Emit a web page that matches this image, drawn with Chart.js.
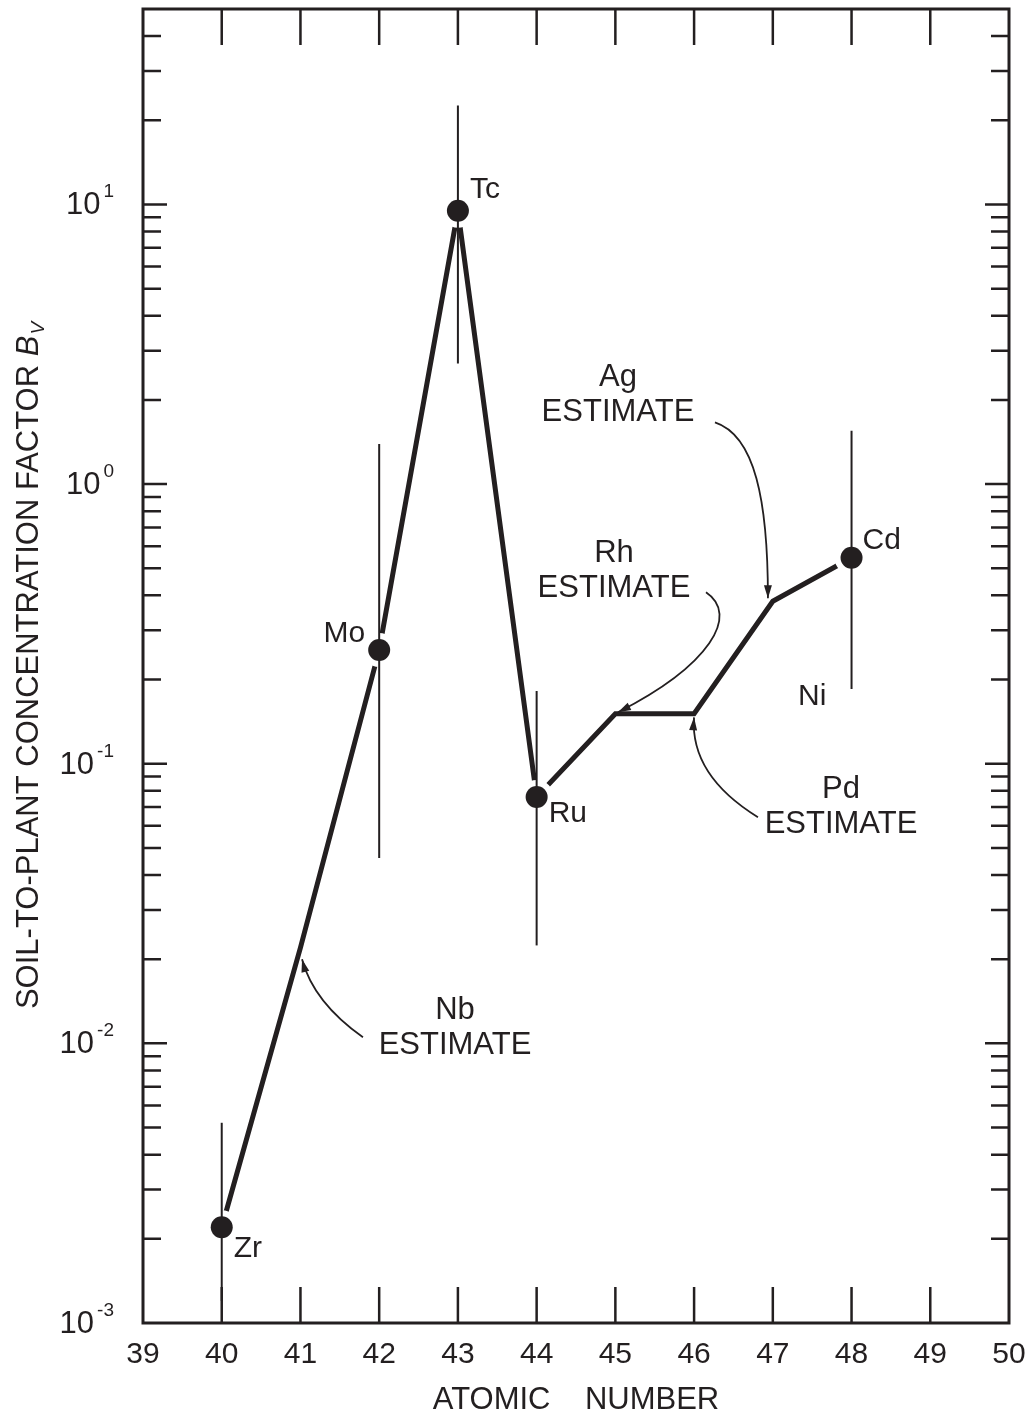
<!DOCTYPE html>
<html>
<head>
<meta charset="utf-8">
<script src="https://cdn.jsdelivr.net/npm/chart.js@4.4.0/dist/chart.umd.min.js"></script>
<style>
  body { margin: 0; background: #fff; }
  canvas { display: block; }
</style>
</head>
<body>
<canvas id="grafico" width="1029" height="1414"></canvas>
<script>
const elementos = ['Zr', 'Mo', 'Tc', 'Ru', 'Cd'];
const numerosAtomicos = [40, 42, 43, 44, 48];
const bvMedio = [0.0022, 0.255, 9.5, 0.076, 0.545];
const bvMin = [0.0012, 0.046, 2.7, 0.0224, 0.185];
const bvMax = [0.0052, 1.39, 22.6, 0.182, 1.55];

// Linha de estimativa (Zr .. Cd, passando por Nb, Rh, Pd, Ag)
const linhaX = [40, 41, 42, 43, 44, 45, 46, 47, 48];
const linhaY = [0.0022, 0.022, 0.255, 9.5, 0.076, 0.151, 0.151, 0.381, 0.545];

// Eixos
const ticksX = [39, 40, 41, 42, 43, 44, 45, 46, 47, 48, 49, 50];
const expoentesY = [-3, -2, -1, 0, 1];
const yMin = 0.001;
const yMax = 50;

const COR = '#231f20';
const FONTE = '"Liberation Sans", Arial, Helvetica, sans-serif';

// Rotulos de cada ponto (deslocamento em px a partir do ponto)
const rotulosPontos = [
  { dx: 12, dy: 21, align: 'left' },   // Zr
  { dx: -14, dy: -16, align: 'right' }, // Mo
  { dx: 12, dy: -21, align: 'left' },  // Tc
  { dx: 12, dy: 17, align: 'left' },   // Ru
  { dx: 11, dy: -17, align: 'left' }   // Cd
];

// Anotacoes "ESTIMATE" com setas curvas (coordenadas no espaco dos dados)
const anotacoes = [
  { nome: 'Nb', texto: [42.963, 0.01315],
    seta: { p0: [41.794, 0.01052], c: [41.166, 0.01403], p1: [41.02, 0.0200] } },
  { nome: 'Rh', texto: [44.982, 0.566],
    seta: { p0: [46.151, 0.410], c1: [46.583, 0.340], c2: [46.202, 0.225], p1: [45.033, 0.1528] } },
  { nome: 'Ag', texto: [45.033, 2.408],
    seta: { p0: [46.265, 1.663], c1: [46.773, 1.493], c2: [46.938, 0.875], p1: [46.938, 0.391] } },
  { nome: 'Pd', texto: [47.866, 0.0811],
    seta: { p0: [46.811, 0.0644], c: [45.948, 0.0910], p1: [45.999, 0.1465] } }
];
const rotuloNi = { texto: 'Ni', pos: [47.5, 0.173] };

function px(chart, p) {
  return [chart.scales.x.getPixelForValue(p[0]), chart.scales.y.getPixelForValue(p[1])];
}

function desenharSeta(ctx, chart, s) {
  const a = px(chart, s.p0);
  const b = px(chart, s.p1);
  let dir;
  ctx.beginPath();
  ctx.moveTo(a[0], a[1]);
  if (s.c) {
    const c = px(chart, s.c);
    ctx.quadraticCurveTo(c[0], c[1], b[0], b[1]);
    dir = [b[0] - c[0], b[1] - c[1]];
  } else {
    const c1 = px(chart, s.c1);
    const c2 = px(chart, s.c2);
    ctx.bezierCurveTo(c1[0], c1[1], c2[0], c2[1], b[0], b[1]);
    dir = [b[0] - c2[0], b[1] - c2[1]];
  }
  ctx.lineWidth = 1.8;
  ctx.strokeStyle = COR;
  ctx.stroke();
  // ponta da seta
  const len = Math.hypot(dir[0], dir[1]);
  const ux = dir[0] / len, uy = dir[1] / len;
  const L = 13, W = 4;
  ctx.beginPath();
  ctx.moveTo(b[0], b[1]);
  ctx.lineTo(b[0] - ux * L - uy * W, b[1] - uy * L + ux * W);
  ctx.lineTo(b[0] - ux * L + uy * W, b[1] - uy * L - ux * W);
  ctx.closePath();
  ctx.fillStyle = COR;
  ctx.fill();
}

const desenho = {
  id: 'desenho',
  beforeDatasetDraw(chart, args) {
    if (args.index !== 2) return;
    // barras de erro
    const ctx = chart.ctx;
    ctx.save();
    ctx.strokeStyle = COR;
    ctx.lineWidth = 2;
    numerosAtomicos.forEach((n, i) => {
      const x = chart.scales.x.getPixelForValue(n);
      ctx.beginPath();
      ctx.moveTo(x, chart.scales.y.getPixelForValue(bvMax[i]));
      ctx.lineTo(x, chart.scales.y.getPixelForValue(bvMin[i]));
      ctx.stroke();
    });
    ctx.restore();
  },
  afterDraw(chart) {
    const ctx = chart.ctx;
    const area = chart.chartArea;
    const sx = chart.scales.x, sy = chart.scales.y;
    ctx.save();
    ctx.strokeStyle = COR;
    ctx.fillStyle = COR;
    ctx.lineCap = 'butt';

    // moldura
    ctx.lineWidth = 3;
    ctx.strokeRect(area.left, area.top, area.right - area.left, area.bottom - area.top);

    // ticks do eixo x (para dentro, em cima e em baixo)
    ctx.lineWidth = 2.5;
    ticksX.forEach(v => {
      if (v <= ticksX[0] || v >= ticksX[ticksX.length - 1]) return;
      const x = sx.getPixelForValue(v);
      ctx.beginPath();
      ctx.moveTo(x, area.bottom);
      ctx.lineTo(x, area.bottom - 36);
      ctx.moveTo(x, area.top);
      ctx.lineTo(x, area.top + 36);
      ctx.stroke();
    });

    // ticks do eixo y (log, dos dois lados)
    expoentesY.forEach(e => {
      for (let m = 1; m <= 9; m++) {
        const v = m * Math.pow(10, e);
        if (v <= yMin * 1.0001 || v >= yMax) continue;
        const y = sy.getPixelForValue(v);
        const len = m === 1 ? 24 : 18;
        ctx.beginPath();
        ctx.moveTo(area.left, y);
        ctx.lineTo(area.left + len, y);
        ctx.moveTo(area.right, y);
        ctx.lineTo(area.right - len, y);
        ctx.stroke();
      }
    });

    // rotulos do eixo x
    ctx.font = '30px ' + FONTE;
    ctx.textAlign = 'center';
    ctx.textBaseline = 'alphabetic';
    ticksX.forEach(v => {
      ctx.fillText(String(v), sx.getPixelForValue(v), area.bottom + 40);
    });

    // rotulos do eixo y: 10 com expoente
    expoentesY.forEach(e => {
      const y = sy.getPixelForValue(Math.pow(10, e));
      const exp = String(e);
      ctx.font = '19px ' + FONTE;
      const wExp = ctx.measureText(exp).width;
      ctx.font = '31px ' + FONTE;
      const wBase = ctx.measureText('10').width;
      const direita = 114;
      ctx.textAlign = 'left';
      ctx.fillText('10', direita - wExp - 3 - wBase, y + 10);
      ctx.font = '19px ' + FONTE;
      ctx.fillText(exp, direita - wExp, y - 7);
    });

    // titulo do eixo x
    ctx.font = '31px ' + FONTE;
    ctx.textAlign = 'center';
    ctx.fillText('ATOMIC    NUMBER', (area.left + area.right) / 2, area.bottom + 86);

    // titulo do eixo y com B italico e subscrito V
    ctx.save();
    ctx.translate(38, (area.top + area.bottom) / 2);
    ctx.rotate(-Math.PI / 2);
    const parte1 = 'SOIL-TO-PLANT CONCENTRATION FACTOR ';
    ctx.font = '31px ' + FONTE;
    const w1 = ctx.measureText(parte1).width;
    ctx.font = 'italic 31px ' + FONTE;
    const wB = ctx.measureText('B').width;
    ctx.font = 'italic 19px ' + FONTE;
    const wV = ctx.measureText('V').width;
    const inicio = -(w1 + wB + wV) / 2;
    ctx.textAlign = 'left';
    ctx.font = '31px ' + FONTE;
    ctx.fillText(parte1, inicio, 0);
    ctx.font = 'italic 31px ' + FONTE;
    ctx.fillText('B', inicio + w1, 0);
    ctx.font = 'italic 19px ' + FONTE;
    ctx.fillText('V', inicio + w1 + wB + 1, 6);
    ctx.restore();

    // rotulos dos elementos medidos
    ctx.font = '30px ' + FONTE;
    ctx.textBaseline = 'middle';
    elementos.forEach((nome, i) => {
      const p = px(chart, [numerosAtomicos[i], bvMedio[i]]);
      const r = rotulosPontos[i];
      ctx.textAlign = r.align;
      ctx.fillText(nome, p[0] + r.dx, p[1] + r.dy);
    });
    const pn = px(chart, rotuloNi.pos);
    ctx.textAlign = 'center';
    ctx.fillText(rotuloNi.texto, pn[0], pn[1]);

    // anotacoes de estimativa
    anotacoes.forEach(a => {
      const t = px(chart, a.texto);
      ctx.textAlign = 'center';
      ctx.textBaseline = 'middle';
      ctx.font = '31px ' + FONTE;
      ctx.fillText(a.nome, t[0], t[1]);
      ctx.fillText('ESTIMATE', t[0], t[1] + 35);
      desenharSeta(ctx, chart, a.seta);
    });

    ctx.restore();
  }
};

const pontos = numerosAtomicos.map((n, i) => ({ x: n, y: bvMedio[i] }));

new Chart(document.getElementById('grafico').getContext('2d'), {
  type: 'line',
  data: {
    datasets: [
      {
        label: 'estimativa',
        data: linhaX.map((x, i) => ({ x: x, y: linhaY[i] })),
        borderColor: COR,
        borderWidth: 5,
        pointRadius: 0,
        fill: false,
        tension: 0,
        clip: false,
        order: 3
      },
      {
        label: 'halo',
        data: pontos,
        showLine: false,
        pointRadius: 17,
        pointBackgroundColor: '#ffffff',
        pointBorderWidth: 0,
        clip: false,
        order: 2
      },
      {
        label: 'medido',
        data: pontos,
        showLine: false,
        pointRadius: 11,
        pointBackgroundColor: COR,
        pointBorderColor: COR,
        pointBorderWidth: 0,
        clip: false,
        order: 1
      }
    ]
  },
  options: {
    responsive: false,
    animation: false,
    events: [],
    layout: { autoPadding: false, padding: { left: 143, top: 9, right: 20, bottom: 91 } },
    scales: {
      x: { type: 'linear', min: 39, max: 50, display: false },
      y: { type: 'logarithmic', min: yMin, max: yMax, display: false }
    },
    plugins: {
      legend: { display: false },
      tooltip: { enabled: false }
    }
  },
  plugins: [desenho]
});
</script>
</body>
</html>
